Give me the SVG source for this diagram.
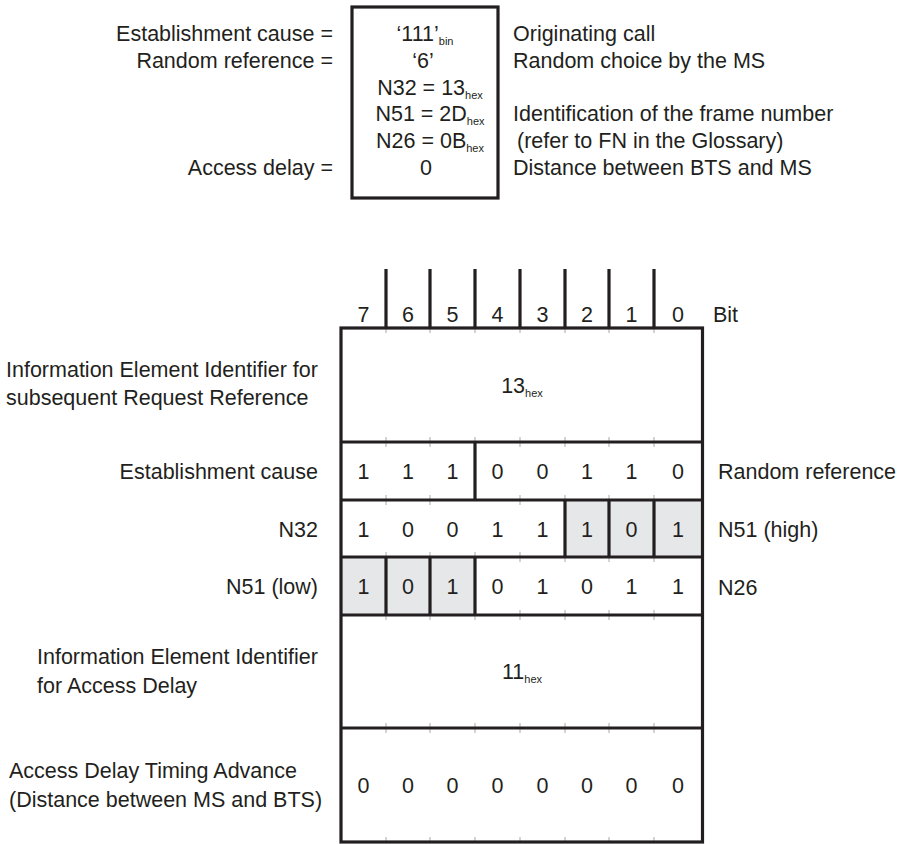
<svg xmlns="http://www.w3.org/2000/svg" width="901" height="844" viewBox="0 0 901 844">
<style>
text{font-family:"Liberation Sans",Arial,sans-serif;font-size:21.5px;fill:#231f20}
.m{text-anchor:middle}
.e{text-anchor:end}
.sub{font-size:11px}
.ln{stroke:#231f20;stroke-width:3.2;fill:none}
.faint{stroke:#b8b8b8;stroke-width:1.2}
.gray{fill:#e6e7e8}
</style>
<rect width="901" height="844" fill="#ffffff"/>

<g id="param-labels-left">
<text class="e" x="333" y="41">Establishment cause =</text>
<text class="e" x="333" y="68">Random reference =</text>
<text class="e" x="333" y="175">Access delay =</text>
</g>

<g id="param-box">
<rect class="ln" x="352" y="7" width="146" height="191" stroke-width="3"/>
<text class="m" x="425" y="41">‘111’<tspan class="sub" dy="4">bin</tspan></text>
<text class="m" x="423" y="68">‘6’</text>
<text class="m" x="430" y="95">N32 = 13<tspan class="sub" dy="4">hex</tspan></text>
<text class="m" x="430" y="121">N51 = 2D<tspan class="sub" dy="4">hex</tspan></text>
<text class="m" x="430" y="148">N26 = 0B<tspan class="sub" dy="4">hex</tspan></text>
<text class="m" x="426" y="175">0</text>
</g>

<g id="param-labels-right">
<text x="513" y="41">Originating call</text>
<text x="513" y="68">Random choice by the MS</text>
<text x="513" y="121">Identification of the frame number</text>
<text x="517" y="148">(refer to FN in the Glossary)</text>
<text x="513" y="175">Distance between BTS and MS</text>
</g>

<g id="bit-header">
<path class="ln" d="M386 269V328M430 269V328M475 269V328M520 269V328M565 269V328M609 269V328M654 269V328"/>
<text class="m" x="363.5" y="322">7</text>
<text class="m" x="408" y="322">6</text>
<text class="m" x="452.5" y="322">5</text>
<text class="m" x="497.5" y="322">4</text>
<text class="m" x="542.5" y="322">3</text>
<text class="m" x="587" y="322">2</text>
<text class="m" x="631.5" y="322">1</text>
<text class="m" x="678" y="322">0</text>
<text x="713" y="322">Bit</text>
</g>

<g id="table">
<rect class="gray" x="565" y="500" width="137.5" height="57"/>
<rect class="gray" x="341" y="557" width="134" height="58"/>
<g id="cell-ticks" class="faint">
<path d="M386 328v5M430 328v5M475 328v5M520 328v5M565 328v5M609 328v5M654 328v5"/>
<path d="M386 437v10M430 437v10M475 437v10M520 437v10M565 437v10M609 437v10M654 437v10"/>
<path d="M386 495v10M430 495v10M520 495v10M565 495v10M609 495v10M654 495v10"/>
<path d="M386 552v10M430 552v10M475 552v10M520 552v10M565 552v10M609 552v10M654 552v10"/>
<path d="M386 610v10M430 610v10M475 610v10M520 610v10M565 610v10M609 610v10M654 610v10"/>
<path d="M386 723v10M430 723v10M475 723v10M520 723v10M565 723v10M609 723v10M654 723v10"/>
<path d="M386 837v5M430 837v5M475 837v5M520 837v5M565 837v5M609 837v5M654 837v5"/>
</g>
<rect class="ln" x="341" y="328" width="361.5" height="514"/>
<path class="ln" d="M341 442H702.5M341 500H702.5M341 557H702.5M341 615H702.5M341 728H702.5"/>
<path class="ln" d="M475 442V500M565 500V557M609 500V557M654 500V557M386 557V615M430 557V615M475 557V615"/>
</g>

<g id="row1">
<text x="6" y="377">Information Element Identifier for</text>
<text x="6" y="405">subsequent Request Reference</text>
<text class="m" x="522" y="393">13<tspan class="sub" dy="4">hex</tspan></text>
</g>

<g id="row2">
<text class="e" x="318" y="479">Establishment cause</text>
<text class="m" x="363.5" y="479">1</text>
<text class="m" x="408" y="479">1</text>
<text class="m" x="452.5" y="479">1</text>
<text class="m" x="497.5" y="479">0</text>
<text class="m" x="542.5" y="479">0</text>
<text class="m" x="587" y="479">1</text>
<text class="m" x="631.5" y="479">1</text>
<text class="m" x="678" y="479">0</text>
<text x="718" y="479">Random reference</text>
</g>

<g id="row3">
<text class="e" x="318" y="537">N32</text>
<text class="m" x="363.5" y="537">1</text>
<text class="m" x="408" y="537">0</text>
<text class="m" x="452.5" y="537">0</text>
<text class="m" x="497.5" y="537">1</text>
<text class="m" x="542.5" y="537">1</text>
<text class="m" x="587" y="537">1</text>
<text class="m" x="631.5" y="537">0</text>
<text class="m" x="678" y="537">1</text>
<text x="718" y="537">N51 (high)</text>
</g>

<g id="row4">
<text class="e" x="318" y="594">N51 (low)</text>
<text class="m" x="363.5" y="594">1</text>
<text class="m" x="408" y="594">0</text>
<text class="m" x="452.5" y="594">1</text>
<text class="m" x="497.5" y="594">0</text>
<text class="m" x="542.5" y="594">1</text>
<text class="m" x="587" y="594">0</text>
<text class="m" x="631.5" y="594">1</text>
<text class="m" x="678" y="594">1</text>
<text x="718" y="595">N26</text>
</g>

<g id="row5">
<text x="37" y="664">Information Element Identifier</text>
<text x="37" y="693">for Access Delay</text>
<text class="m" x="522" y="679">11<tspan class="sub" dy="4">hex</tspan></text>
</g>

<g id="row6">
<text x="9" y="778">Access Delay Timing Advance</text>
<text x="9" y="807">(Distance between MS and BTS)</text>
<text class="m" x="363.5" y="793">0</text>
<text class="m" x="408" y="793">0</text>
<text class="m" x="452.5" y="793">0</text>
<text class="m" x="497.5" y="793">0</text>
<text class="m" x="542.5" y="793">0</text>
<text class="m" x="587" y="793">0</text>
<text class="m" x="631.5" y="793">0</text>
<text class="m" x="678" y="793">0</text>
</g>
</svg>
